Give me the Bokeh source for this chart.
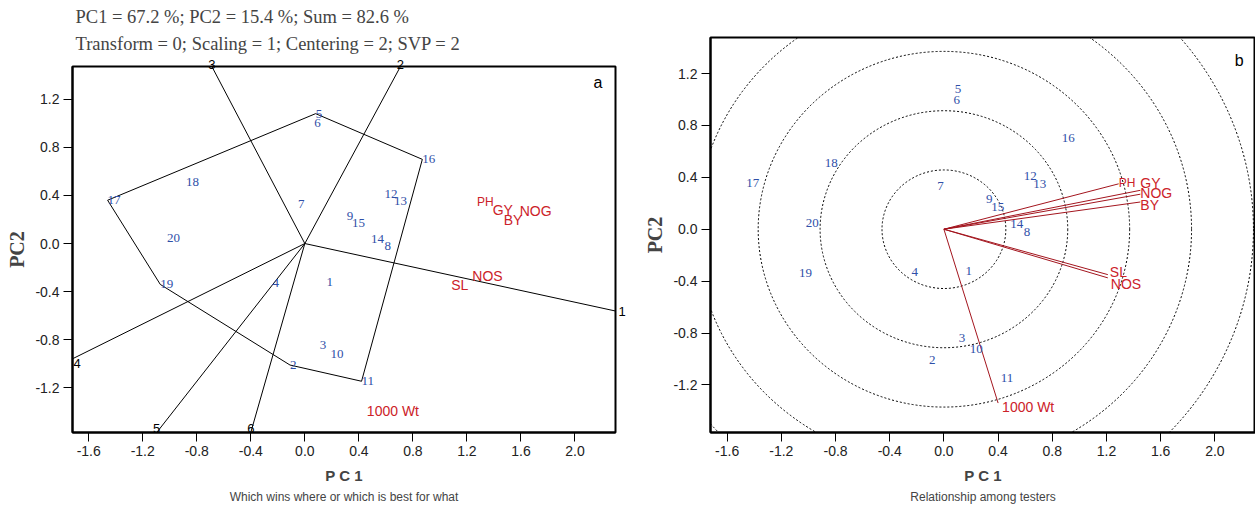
import numpy as np
from bokeh.plotting import figure
from bokeh.models import (Range1d, FixedTicker, PrintfTickFormatter, Title, Label,
                          LinearAxis, CustomJSTickFormatter)
from bokeh.embed import file_html
from bokeh.resources import INLINE
from bokeh.core.properties import value

# ---------------- data ----------------
genotypes = [str(i) for i in range(1, 21)]
gen_pc1 = [0.16, -0.11, 0.11, -0.24, 0.08, 0.07, -0.05, 0.59, 0.31, 0.19,
           0.42, 0.59, 0.66, 0.49, 0.35, 0.87, -1.46, -0.88, -1.07, -1.02]
gen_pc2 = [-0.32, -1.01, -0.84, -0.33, 1.08, 1.00, 0.33, -0.02, 0.23, -0.92,
           -1.145, 0.41, 0.35, 0.04, 0.17, 0.70, 0.36, 0.51, -0.34, 0.05]

traits = ["PH", "GY", "NOG", "BY", "SL", "NOS", "1000 Wt"]
trait_pc1 = [1.29, 1.45, 1.45, 1.45, 1.21, 1.21, 0.40]
trait_pc2 = [0.35, 0.30, 0.27, 0.21, -0.35, -0.375, -1.34]

hull_order = ["5", "16", "11", "2", "19", "17"]
sector_names = ["2", "1", "6", "5", "4", "3"]

circle_radii = [0.457, 0.914, 1.371, 1.828, 2.285]

x_ticks = [-1.6, -1.2, -0.8, -0.4, 0.0, 0.4, 0.8, 1.2, 1.6, 2.0]
y_ticks = [-1.2, -0.8, -0.4, 0.0, 0.4, 0.8, 1.2]

header_1 = "PC1 = 67.2 %; PC2 = 15.4 %; Sum = 82.6 %"
header_2 = "Transform = 0; Scaling = 1; Centering = 2; SVP = 2"

# ---------------- styles ----------------
BLUE = "#2f4fa8"
RED_TXT = "#cc2229"
RED_LINE = "#a3151e"

trait_font = ["12px", "14px", "14px", "14px", "14px", "14px", "14px"]
left_label_dx = [-2, -8, 19, 3, -17, 4, 8]
left_label_dy = [1, 3, 0, 2, -1, -13, 6]
right_label_dx = [0, 0, 0, 0, 2, 3, 4]
right_label_dy = [-1, -7, -1, 3, -3, 6, 4]


def style(p, caption):
    p.grid.visible = False
    p.outline_line_color = "black"
    p.outline_line_width = 2
    p.outline_line_alpha = 1
    p.background_fill_color = "white"
    p.border_fill_color = "white"
    for ax in (p.xaxis[0], p.yaxis[0]):
        ax.axis_line_width = 2
        ax.axis_line_color = "black"
        ax.major_tick_out = 9
        ax.major_tick_in = 0
        ax.minor_tick_out = 0
        ax.minor_tick_in = 0
        ax.major_label_text_font = "Liberation Sans"
        ax.major_label_text_font_size = "14px"
        ax.major_label_text_color = "#222222"
        ax.major_label_standoff = 4
        ax.formatter = PrintfTickFormatter(format="%.1f")
    p.xaxis[0].ticker = FixedTicker(ticks=x_ticks, minor_ticks=[])
    p.yaxis[0].ticker = FixedTicker(ticks=y_ticks, minor_ticks=[])
    p.xaxis[0].axis_label = "P C 1"
    p.xaxis[0].axis_label_text_font = "Liberation Sans"
    p.xaxis[0].axis_label_text_font_style = "bold"
    p.xaxis[0].axis_label_text_font_size = "15px"
    p.xaxis[0].axis_label_standoff = 8
    p.yaxis[0].axis_label = "PC2"
    p.yaxis[0].axis_label_text_font = "Liberation Serif"
    p.yaxis[0].axis_label_text_font_style = "bold"
    p.yaxis[0].axis_label_text_font_size = "20px"
    p.yaxis[0].axis_label_standoff = 4
    cap = Title(text=caption, align="center", text_font="Liberation Sans",
                text_font_size="12px", text_font_style="normal", standoff=2)
    p.add_layout(cap, "below")


def name_axis(positions, names, standoff):
    code = ("let b = 0, bd = 1e9;"
            "for (let i = 0; i < xs.length; i++) { const d = Math.abs(xs[i] - tick);"
            " if (d < bd) { bd = d; b = i; } }"
            "return names[b];")
    return dict(ticker=FixedTicker(ticks=sorted(positions), minor_ticks=[]),
                formatter=CustomJSTickFormatter(args=dict(xs=positions, names=names), code=code),
                axis_line_color=None, major_tick_line_color=None, minor_tick_line_color=None,
                major_tick_out=0, major_tick_in=0, minor_tick_out=0, minor_tick_in=0,
                major_label_standoff=standoff, major_label_text_font="Liberation Sans",
                major_label_text_font_size="13px", major_label_text_color="black")


# ---------------- left panel: which wins where ----------------
X1 = (-1.72, 2.30)
Y1 = (-1.571, 1.472)
p1 = figure(width=640, height=511, x_range=Range1d(*X1), y_range=Range1d(*Y1),
            output_backend="svg", toolbar_location=None,
            min_border_left=72, min_border_right=25, min_border_top=66, min_border_bottom=79)
style(p1, "Which wins where or which is best for what")

hx = [gen_pc1[genotypes.index(g)] for g in hull_order]
hy = [gen_pc2[genotypes.index(g)] for g in hull_order]
p1.line(x=hx + [hx[0]], y=hy + [hy[0]], line_color="black", line_width=1)

# rays perpendicular to each hull side, extended to the frame
ends_x, ends_y, where = [], [], []
n = len(hx)
for i in range(n):
    ax_, ay_ = hx[i], hy[i]
    bx_, by_ = hx[(i + 1) % n], hy[(i + 1) % n]
    dx, dy = bx_ - ax_, by_ - ay_
    t = -(ax_ * dx + ay_ * dy) / (dx * dx + dy * dy)
    fx, fy = ax_ + t * dx, ay_ + t * dy
    sx = X1[1] / fx if fx > 0 else X1[0] / fx
    sy = Y1[1] / fy if fy > 0 else Y1[0] / fy
    s = min(sx, sy)
    ends_x.append(fx * s)
    ends_y.append(fy * s)
    if sx < sy:
        where.append("right" if fx > 0 else "left")
    else:
        where.append("top" if fy > 0 else "bottom")
p1.segment(x0=[0] * n, y0=[0] * n, x1=ends_x, y1=ends_y, line_color="black", line_width=1)

top_pos = [ex for ex, w in zip(ends_x, where) if w == "top"]
top_nm = [nm for nm, w in zip(sector_names, where) if w == "top"]
right_pos = [ey for ey, w in zip(ends_y, where) if w == "right"]
right_nm = [nm for nm, w in zip(sector_names, where) if w == "right"]
if top_pos:
    p1.add_layout(LinearAxis(**name_axis(top_pos, top_nm, -2)), "above")
if right_pos:
    p1.add_layout(LinearAxis(**name_axis(right_pos, right_nm, 3)), "right")
for nm, ex, ey, w in zip(sector_names, ends_x, ends_y, where):
    if w == "bottom":
        p1.add_layout(Label(x=ex, y=ey, text=nm, text_align="center", text_baseline="bottom",
                            y_offset=0, text_font="Liberation Sans", text_font_size="13px",
                            text_color="black"))
    elif w == "left":
        p1.add_layout(Label(x=ex, y=ey, text=nm, text_align="left", text_baseline="top",
                            x_offset=1, text_font="Liberation Sans", text_font_size="13px",
                            text_color="black"))

p1.title.text = header_1 + "\n" + header_2
p1.title.align = "left"
p1.title.offset = 3
p1.title.text_font = "Liberation Serif"
p1.title.text_font_size = "18.5px"
p1.title.text_font_style = "normal"
p1.title.text_line_height = 1.35
p1.title.standoff = 6

p1.text(x=gen_pc1, y=gen_pc2, text=genotypes, text_font=value("Liberation Serif"),
        text_font_size=value("13px"), text_color=BLUE, text_align="left", text_baseline="middle")
p1.text(x=trait_pc1, y=trait_pc2, text=traits, x_offset=left_label_dx, y_offset=left_label_dy,
        text_font=value("Liberation Sans"), text_font_size=trait_font, text_color=RED_TXT,
        text_align="left", text_baseline="middle")
p1.add_layout(Label(x=2.17, y=1.336, text="a", text_align="center", text_baseline="middle",
                    text_font="Liberation Sans", text_font_size="16px", text_color="black"))

# ---------------- right panel: relationship among testers ----------------
X2 = (-1.723, 2.30)
Y2 = (-1.567, 1.478)
p2 = figure(width=615, height=511, x_range=Range1d(*X2), y_range=Range1d(*Y2),
            output_backend="svg", toolbar_location=None,
            min_border_left=70, min_border_right=0, min_border_top=37, min_border_bottom=79)
style(p2, "Relationship among testers")
p2.title.text = ""

p2.ellipse(x=[0] * len(circle_radii), y=[0] * len(circle_radii),
           width=[2 * r for r in circle_radii], height=[2 * r for r in circle_radii],
           fill_color=None, line_color="black", line_dash="2 2", line_width=1)
p2.segment(x0=[0] * len(traits), y0=[0] * len(traits), x1=trait_pc1, y1=trait_pc2,
           line_color=RED_LINE, line_width=1)
p2.text(x=gen_pc1, y=gen_pc2, text=genotypes, text_font=value("Liberation Serif"),
        text_font_size=value("13px"), text_color=BLUE, text_align="left", text_baseline="middle")
p2.text(x=trait_pc1, y=trait_pc2, text=traits, x_offset=right_label_dx, y_offset=right_label_dy,
        text_font=value("Liberation Sans"), text_font_size=trait_font, text_color=RED_TXT,
        text_align="left", text_baseline="middle")
p2.add_layout(Label(x=2.18, y=1.30, text="b", text_align="center", text_baseline="middle",
                    text_font="Liberation Sans", text_font_size="16px", text_color="black"))

TEMPLATE = """
{% block postamble %}
<style>
body { display: flex !important; flex-direction: row; align-items: flex-start; margin: 0; padding: 0; }
</style>
{% endblock %}
"""

open("out.html", "w").write(file_html([p1, p2], INLINE, template=TEMPLATE))
